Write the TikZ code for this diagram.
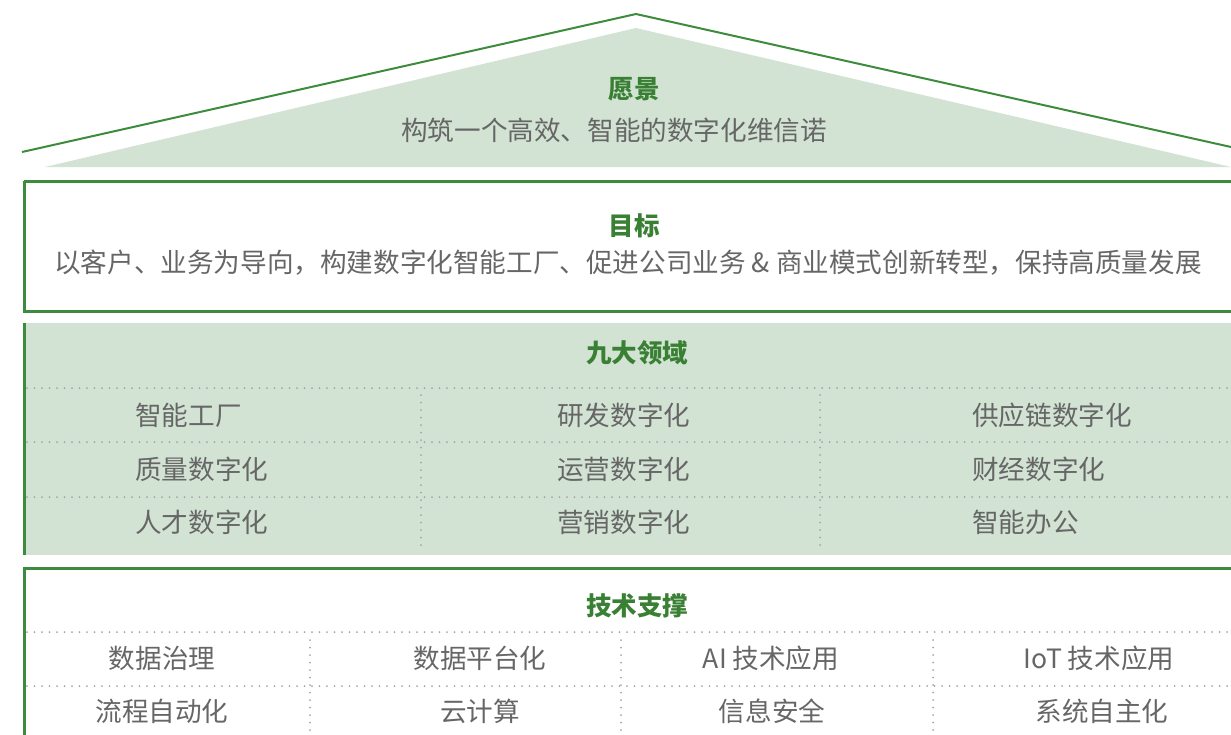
\documentclass[tikz,border=0pt]{standalone}
\usepackage{fontspec}
\setmainfont{Noto Sans CJK SC}
\usepackage{tikz}
\usetikzlibrary{positioning}

\definecolor{roofgreen}{RGB}{61,139,61}
\definecolor{titlegreen}{RGB}{58,128,52}
\definecolor{palegreen}{RGB}{210,227,212}
\definecolor{bodygray}{RGB}{102,102,102}
\definecolor{dotgray}{RGB}{165,165,165}

\begin{document}
\begin{tikzpicture}
    [x=1pt, y=-1pt,
    every node/.style={inner sep=0pt, anchor=base, font=\fontsize{26.6}{30}\selectfont},
    title/.style={text=titlegreen, font=\fontsize{25.5}{30}\selectfont\bfseries},
    item/.style={text=bodygray},
    frame/.style={draw=roofgreen, line width=3pt},
    grid/.style={draw=dotgray, line width=2pt, line cap=round, dash pattern=on 0pt off 7.5pt}
    ]

    \useasboundingbox (0,0) rectangle (1231,734);
    \begin{scope}
    \clip (0,0) rectangle (1231,734);

    % Roof: vision
    \fill[palegreen] (45,167) -- (636,28) -- (1231,167) -- cycle;
    \draw[roofgreen, line width=2pt] (22,152) -- (636,14) -- (1231,147);
    \node[title] (vision) at (634,98) {愿景};
    \node[item] (visiontext) at (614,140) {构筑一个高效、智能的数字化维信诺};

    % Goal
    \draw[frame] (24,181) -- (1245,181) (24,181) -- (24,311) -- (1245,311);
    \node[title] (goal) at (634,235) {目标};
    \node[item] (goaltext) at (628,272) {以客户、业务为导向，构建数字化智能工厂、促进公司业务 \& 商业模式创新转型，保持高质量发展};

    % Nine domains
    \fill[palegreen] (23,323) rectangle (1245,555);
    \draw[roofgreen, line width=3pt] (24,323) -- (24,555);
    \node[title] (domains) at (637,362) {九大领域};
    \foreach \y in {388,442,497}
      \draw[grid] (27,\y) -- (1231,\y);
    \foreach \x in {421,820}
      \draw[grid] (\x,395) -- (\x,546);

    \node[item, anchor=base west] (d11) at (135,425) {智能工厂};
    \node[item, anchor=base west] (d21) at (135,479) {质量数字化};
    \node[item, anchor=base west] (d31) at (135,532) {人才数字化};
    \node[item, anchor=base west] (d12) at (557,425) {研发数字化};
    \node[item, anchor=base west] (d22) at (557,479) {运营数字化};
    \node[item, anchor=base west] (d32) at (557,532) {营销数字化};
    \node[item, anchor=base west] (d13) at (972,425) {供应链数字化};
    \node[item, anchor=base west] (d23) at (972,479) {财经数字化};
    \node[item, anchor=base west] (d33) at (972,532) {智能办公};

    % Technical support
    \draw[frame] (24,740) -- (24,568) -- (1245,568);
    \node[title] (tech) at (637,615) {技术支撑};
    \foreach \y in {632,686}
      \draw[grid] (27,\y) -- (1231,\y);
    \foreach \x in {310,621,933}
      \draw[grid] (\x,640) -- (\x,734);

    \node[item] (t11) at (162,668) {数据治理};
    \node[item] (t21) at (162,721) {流程自动化};
    \node[item] (t12) at (480,668) {数据平台化};
    \node[item] (t22) at (480,721) {云计算};
    \node[item] (t13) at (771,668) {AI 技术应用};
    \node[item] (t23) at (772,721) {信息安全};
    \node[item] (t14) at (1099,668) {IoT 技术应用};
    \node[item] (t24) at (1102,721) {系统自主化};
    \end{scope}

  \end{tikzpicture}
\end{document}
